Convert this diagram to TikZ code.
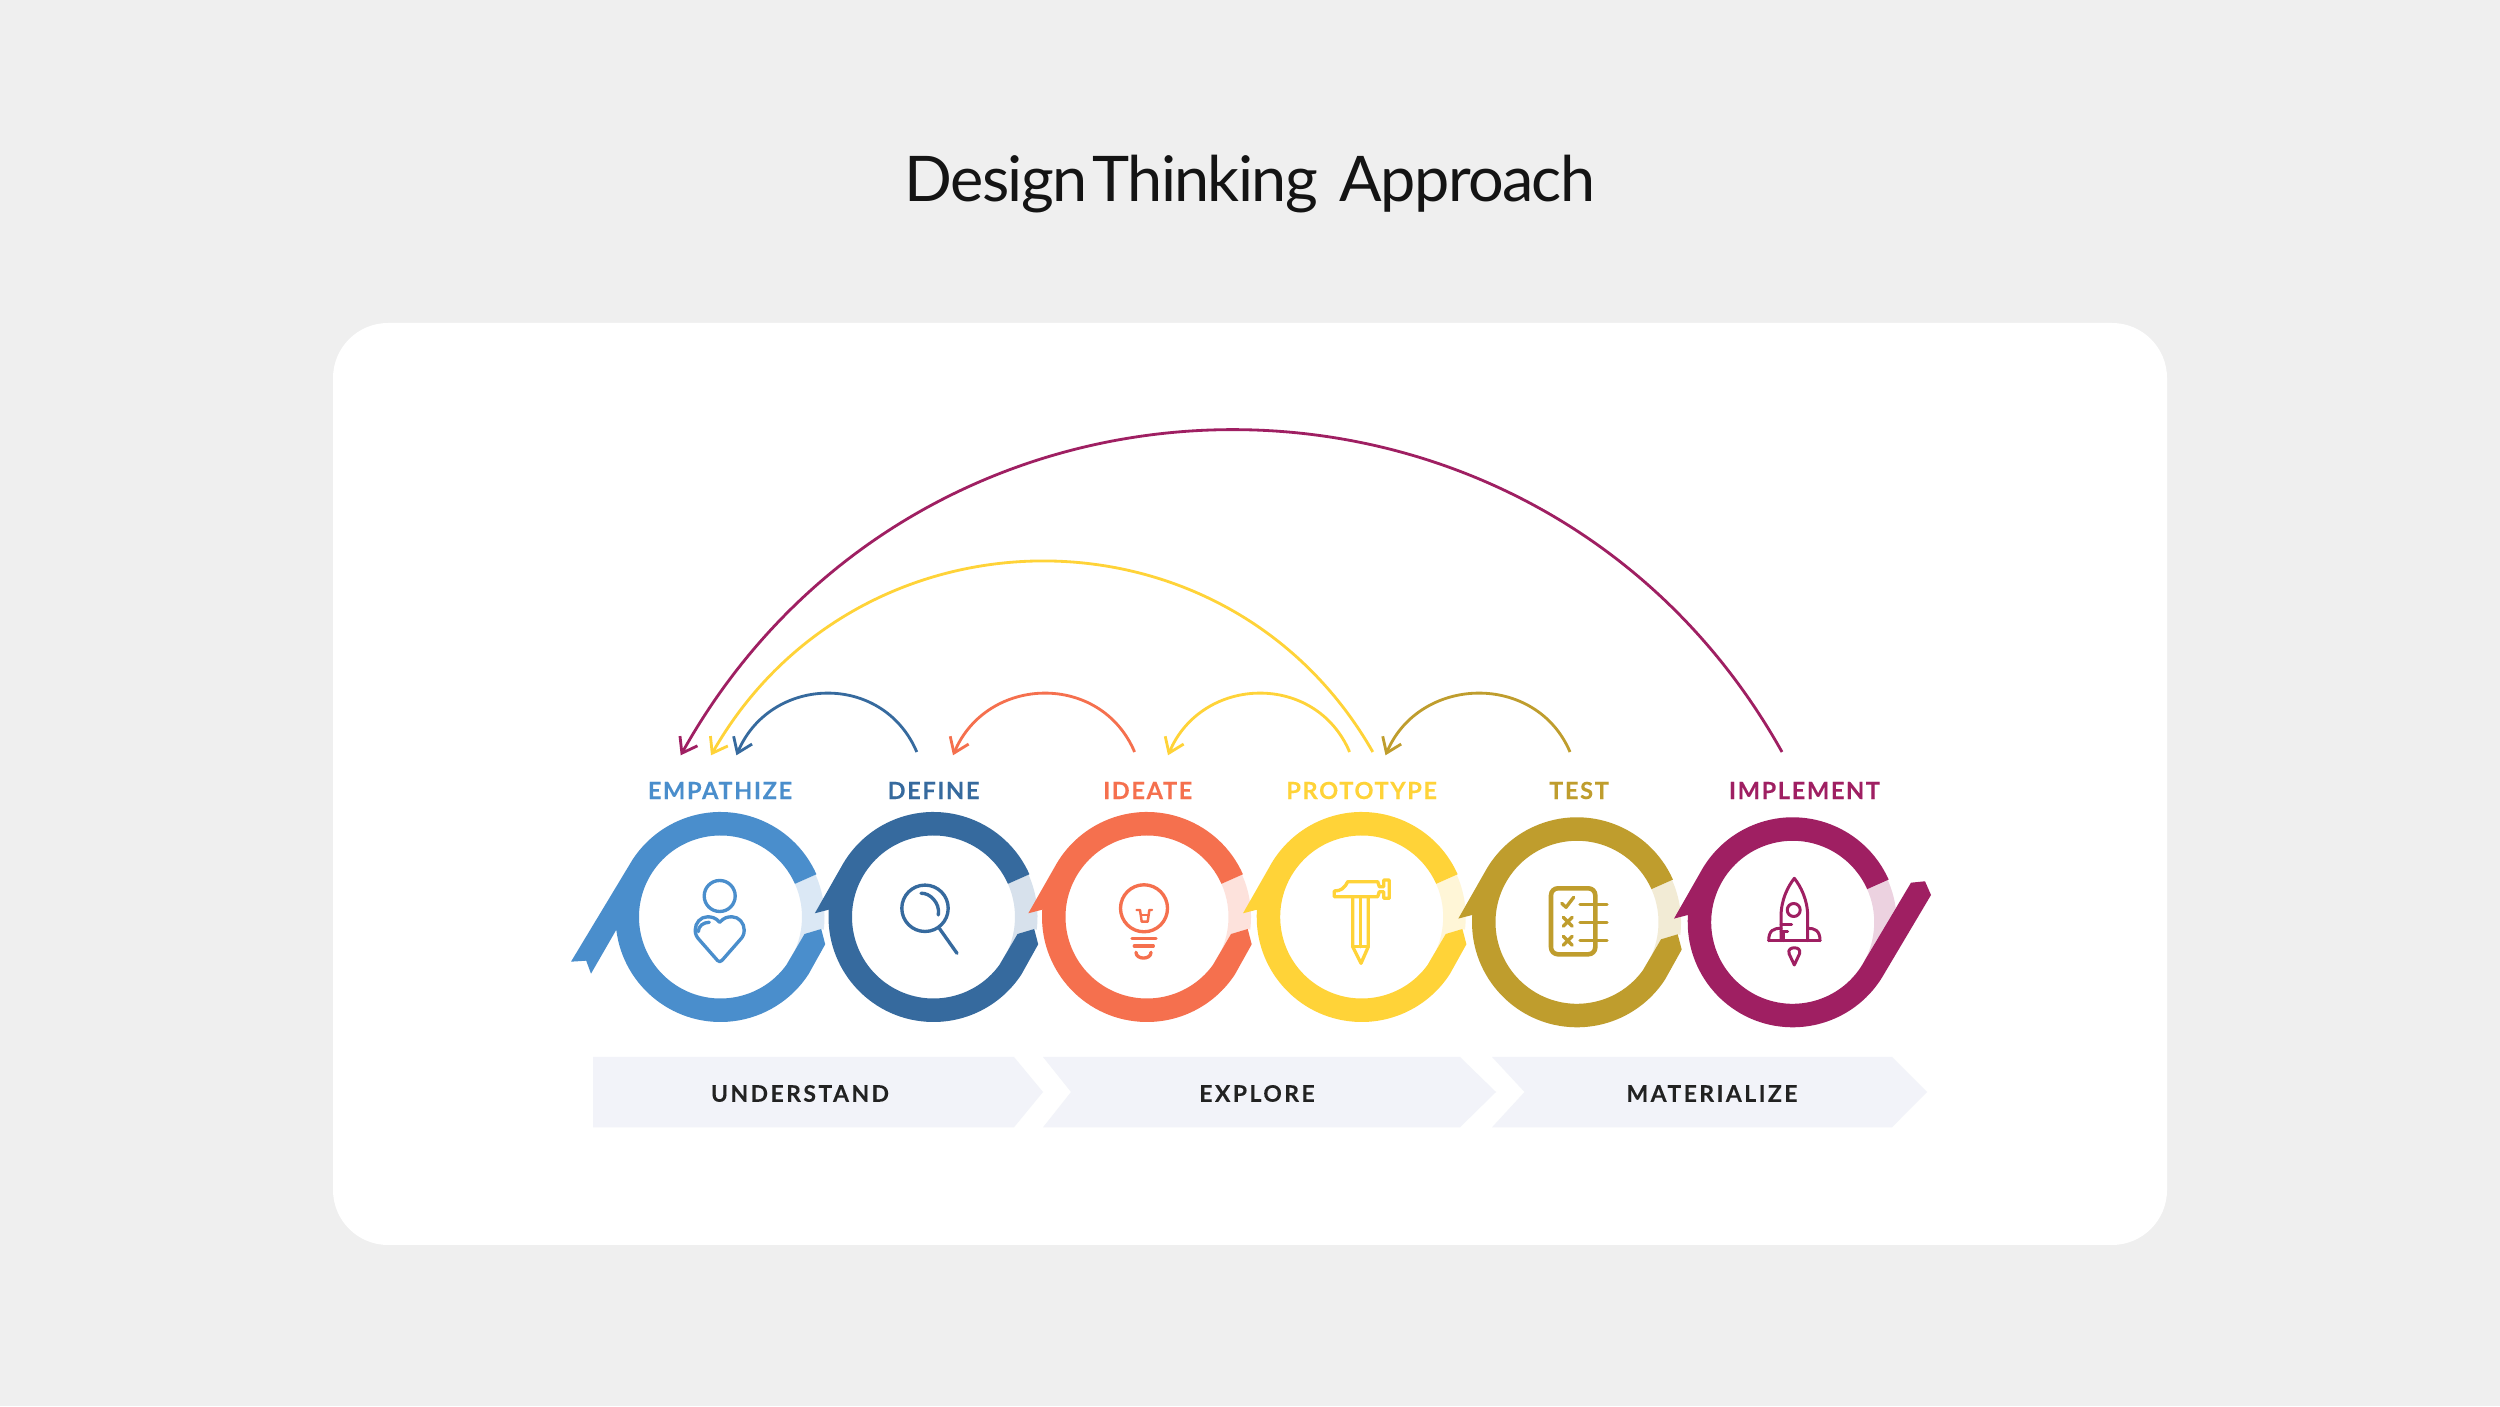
\documentclass[tikz,border=0pt]{standalone}
\usepackage{fontspec}
\setmainfont{Lato}
\newfontfamily\titlefont[LetterSpace=-2.6]{Lato}
\newfontfamily\lblfont[LetterSpace=7, BoldFeatures={FakeBold=0.15}]{Lato}
\newfontfamily\phasefont[LetterSpace=11, BoldFeatures={FakeBold=0.15}]{Lato}
\usetikzlibrary{arrows.meta}
\definecolor{pagec}{HTML}{EFEFEF}
\definecolor{empc}{HTML}{4A8ECC}
\definecolor{defc}{HTML}{366A9E}
\definecolor{ideac}{HTML}{F5704E}
\definecolor{protc}{HTML}{FFD338}
\definecolor{testc}{HTML}{BF9D2D}
\definecolor{implc}{HTML}{9F1F62}
\definecolor{phasec}{HTML}{F2F3F9}
\definecolor{inkc}{HTML}{222222}

\begin{document}
\begin{tikzpicture}[
        x=0.01cm, y=0.01cm,
        hop/.style={draw=#1, line width=0.8pt, -{Straight Barb[length=1.4mm, width=2mm]}},
        lbl/.style={text=#1, font=\lblfont\fontsize{6.7}{8}\selectfont\bfseries, inner sep=0pt},
        phase/.style={text=inkc, font=\phasefont\fontsize{6.5}{8}\selectfont\bfseries, inner sep=0pt},
        icon/.style={draw=#1, line width=0.95pt, line cap=round, line join=round},
    ]
    % ---- Page and card ----
    \fill[pagec] (0,0) rectangle (2500,1406);
    \fill[white, rounded corners=0.55cm] (333,161) rectangle (2167,1083);
    \node[anchor=base, text=black!92, font=\titlefont\fontsize{17.9}{20}\selectfont] (title) at (1250,1204.5) {Design\hspace{-0.15em} Thinking\hspace{0.12em} Approach};

    % ---- Empathize ring ----
    \begin{scope}[shift={(720.5,489)}]
        \fill[empc!20] (24:104) arc (24:-7:104) -- (100.7,-12) -- (84,-17) -- (-36:81.5) arc (-36:24:81.5) -- cycle;
        \fill[empc] (24:81.5) -- (24:105) arc (24:147:105) -- (-149.5,-44.7) -- (-134.3,-43.7) -- (-129.5,-56.7) -- (187:105) arc (187:327:105) -- (104.7,-27.3) -- (100.7,-12) -- (84,-17) -- (-36:81.5) arc (-36:-336:81.5) -- cycle;
        \draw[icon=empc] (-0.8,21) circle (15.5);
        \draw[icon=empc] (-0.8,-5.3) .. controls (-5,-0.5) and (-9,0.2) .. (-13,0.2) .. controls (-20,0.2) and (-25.3,-6) .. (-25.3,-13) .. controls (-25.3,-17) and (-24,-20) .. (-21,-23) -- (-3,-43.5) .. controls (-1.8,-45) and (0.2,-45) .. (1.4,-43.5) -- (19.4,-23) .. controls (22.4,-20) and (23.7,-17) .. (23.7,-13) .. controls (23.7,-6) and (18.4,0.2) .. (11.4,0.2) .. controls (7.4,0.2) and (3.4,-0.5) .. cycle;
        \draw[icon=empc] (-22.2,-14.7) .. controls (-22.2,-9) and (-17,-5.3) .. (-11.2,-5.3);
    \end{scope}

    % ---- Middle rings ----
    \foreach \cx/\cy/\clr in {933.5/489/defc, 1147/489/ideac, 1361.7/489/protc, 1577/483.7/testc}{
        \begin{scope}[shift={(\cx,\cy)}]
            \fill[\clr!20] (24:104) arc (24:-7:104) -- (100.7,-12) -- (84,-17) -- (-36:81.5) arc (-36:24:81.5) -- cycle;
            \fill[\clr] (24:81.5) -- (24:105) arc (24:151.7:105) -- (-118.7,3.7) -- (176:105) arc (176:327:105) -- (104.7,-27.3) -- (100.7,-12) -- (84,-17) -- (-36:81.5) arc (-36:-336:81.5) -- cycle;
        \end{scope}
    }

    % ---- Implement ring ----
    \begin{scope}[shift={(1792.7,483.7)}]
        \fill[implc!20] (24:104) arc (24:8:104) -- (-27.8:81.5) arc (-27.8:24:81.5) -- cycle;
        \fill[implc] (24:81.5) -- (24:105) arc (24:151.7:105) -- (-118.7,3.7) -- (176:105) arc (176:328:105) -- (138.3,27.3) -- (132.3,41) -- (118.3,39.6) -- (-27.8:81.5) arc (-27.8:-336:81.5) -- cycle;
        \draw[icon=implc, line width=0.85pt] (-11.7,-18.4) -- (-11.7,5.6) .. controls (-11.7,22.3) and (-5,35.6) .. (1.6,44) .. controls (8.2,35.6) and (15,22.3) .. (15,5.6) -- (15,-18.4);
        \draw[icon=implc, line width=0.85pt] (-24,-18.4) -- (27.3,-18.4);
        \draw[icon=implc, line width=0.85pt] (-24,-18.4) .. controls (-24,-8) and (-19,-6) .. (-11.7,-6);
        \draw[icon=implc, line width=0.85pt] (15,-6) .. controls (22,-6) and (27.3,-8) .. (27.3,-18.4);
        \draw[icon=implc, line width=0.85pt] (1,12.3) circle (6.5);
        \draw[icon=implc, line width=0.85pt] (-11.7,-2) -- (-1,-2);
        \draw[icon=implc, line width=0.85pt] (-11.7,-9.3) -- (-5,-9.3);
        \draw[icon=implc, line width=0.85pt] (-9.5,-9.3) -- (-9.5,-18.4);
        \draw[icon=implc, line width=0.85pt] (1.6,-42.7) -- (-3.6,-31.5) .. controls (-5,-27) and (-1.5,-25.5) .. (1.6,-25.5) .. controls (4.7,-25.5) and (8.2,-27) .. (6.8,-31.5) -- cycle;
    \end{scope}

    % ---- Define icon ----
    \begin{scope}[shift={(933.5,489)}]
        \draw[icon=defc] (-8.5,8.7) circle (23.2);
        \draw[icon=defc] (5.8,-11.3) -- (23.5,-36.3);
        \draw[icon=defc] (-12.5,23.7) .. controls (-4,24.5) and (7,14) .. (4.8,2);
    \end{scope}

    % ---- Ideate icon ----
    \begin{scope}[shift={(1147,489)}]
        \draw[icon=ideac] (-3,8.7) circle (23.5);
        \draw[icon=ideac, line width=0.7pt] (-10.3,7) -- (-7,7) -- (-5.3,-4.7) -- (0.7,-4.7) -- (2.3,7) -- (5,7);
        \draw[icon=ideac, line width=0.7pt] (-6,2) -- (1.5,2);
        \draw[icon=ideac] (-15,-21.3) -- (9,-21.3);
        \draw[icon=ideac] (-12.7,-29) -- (6.3,-29);
        \draw[icon=ideac] (-11,-35.3) .. controls (-11,-43) and (4,-43) .. (4,-35.3);
    \end{scope}

    % ---- Prototype icon ----
    \begin{scope}[shift={(1361.7,489)}]
        \draw[icon=protc] (-14,35.3) -- (16,35.3) -- (17.6,30.3) -- (22,30.3) -- (22,37) -- (27.6,37) -- (27.6,18.7) -- (22,18.7) -- (22,25.3) -- (17.6,25.3) -- (16,20.3) -- (-27.4,20.3) -- (-27.4,26) .. controls (-20.7,26) and (-17.4,28.7) .. cycle;
        \draw[icon=protc] (-9,20.3) -- (-9,-29.7) -- (-0.7,-46.3) -- (6.6,-29.7) -- (6.6,20.3);
        \draw[icon=protc] (-1.2,20.3) -- (-1.2,-29.7);
        \draw[icon=protc] (-9,-29.7) -- (6.6,-29.7);
    \end{scope}

    % ---- Test icon ----
    \begin{scope}[shift={(1577,483.7)}]
        \draw[icon=testc, line width=1.3pt, rounded corners=0.07cm] (-26,-32) rectangle (18.3,34);
        \foreach \by in {18,-0.4,-18.4}{
            \draw[icon=testc] (3,\by) -- (30,\by);
        }
        \draw[icon=testc] (-15.3,19) -- (-11,15) -- (-3.3,25);
        \foreach \by in {0.6,-18.4}{
            \draw[icon=testc] (-13.8,\by-4.5) -- (-4.8,\by+4.5);
            \draw[icon=testc] (-13.8,\by+4.5) -- (-4.8,\by-4.5);
        }
    \end{scope}

    % ---- Step labels ----
    \node[lbl=empc] (empathize) at (720,615.5) {EMPATHIZE};
    \node[lbl=defc] (define) at (933.5,615.5) {DEFINE};
    \node[lbl=ideac] (ideate) at (1147.7,615.5) {IDEATE};
    \node[lbl=protc] (prototype) at (1361.7,615.5) {PROTOTYPE};
    \node[lbl=testc] (test) at (1579,615.5) {TEST};
    \node[lbl=implc] (implement) at (1804.5,615.5) {IMPLEMENT};

    % ---- Feedback arcs ----
    \coordinate (definefrom) at (916.8,654);
    \coordinate (ideatefrom) at (1134.6,654);
    \coordinate (protofrom) at (1349.6,654);
    \coordinate (protofar) at (1372.8,654);
    \coordinate (testfrom) at (1570,654);
    \coordinate (implfrom) at (1782,654);
    \coordinate (empto) at (736.4,650.7);
    \coordinate (emptoproto) at (711,650.7);
    \coordinate (emptoimpl) at (680.7,650.7);
    \coordinate (defto) at (953,650.7);
    \coordinate (ideato) at (1168,650.7);
    \coordinate (prototo) at (1385.5,650.7);
    \draw[hop=implc] (implfrom) to[out=119.2, in=60.8, distance=4.94cm] (emptoimpl);
    \draw[hop=protc] (protofar) to[out=119.7, in=60.3, distance=2.95cm] (emptoproto);
    \draw[hop=defc] (definefrom) to[out=113, in=67, distance=0.87cm] (empto);
    \draw[hop=ideac] (ideatefrom) to[out=113, in=67, distance=0.87cm] (defto);
    \draw[hop=protc] (protofrom) to[out=113, in=67, distance=0.87cm] (ideato);
    \draw[hop=testc] (testfrom) to[out=113, in=67, distance=0.87cm] (prototo);

    % ---- Phase bands ----
    \fill[phasec] (593,349) -- (1014,349) -- (1043,314) -- (1014,278.7) -- (593,278.7) -- cycle;
    \fill[phasec] (1043,349) -- (1460,349) -- (1496,314) -- (1460,278.7) -- (1043,278.7) -- (1071,314) -- cycle;
    \fill[phasec] (1492,349) -- (1892,349) -- (1927,314) -- (1892,278.7) -- (1492,278.7) -- (1524.5,314) -- cycle;
    \node[phase] (understand) at (800,312.5) {UNDERSTAND};
    \node[phase] (explore) at (1257,312.5) {EXPLORE};
    \node[phase] (materialize) at (1712,312.5) {MATERIALIZE};
\end{tikzpicture}
\end{document}
